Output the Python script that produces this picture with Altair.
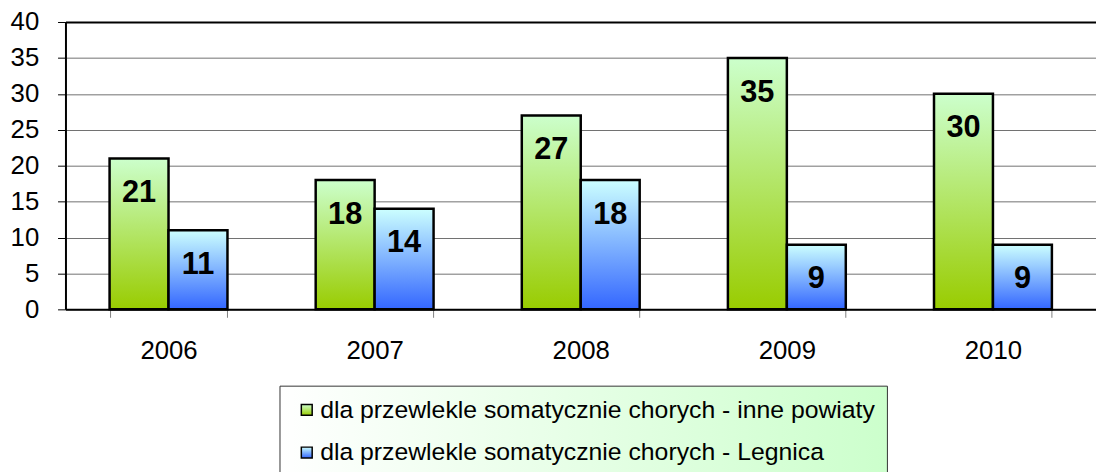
import altair as alt
import pandas as pd

years = ["2006", "2007", "2008", "2009", "2010"]
series_names = [
    "dla przewlekle somatycznie chorych - inne powiaty",
    "dla przewlekle somatycznie chorych - Legnica",
]
inne_powiaty = [21, 18, 27, 35, 30]
legnica = [11, 14, 18, 9, 9]
y_ticks = [0, 5, 10, 15, 20, 25, 30, 35, 40]

rows = []
for i, yr in enumerate(years):
    rows.append({"rok": yr, "seria": series_names[0], "wartosc": inne_powiaty[i]})
    rows.append({"rok": yr, "seria": series_names[1], "wartosc": legnica[i]})
df = pd.DataFrame(rows)

green_grad = ("{gradient: 'linear', x1: 0, y1: 0, x2: 0, y2: 1, stops: ["
              "{offset: 0, color: '#ccffcc'}, {offset: 1, color: '#99cc00'}]}")
blue_grad = ("{gradient: 'linear', x1: 0, y1: 0, x2: 0, y2: 1, stops: ["
             "{offset: 0, color: '#ccffff'}, {offset: 1, color: '#3366ff'}]}")
legend_bg = ("{gradient: 'linear', x1: 0, y1: 0, x2: 1, y2: 0, stops: ["
             "{offset: 0, color: '#ffffff'}, {offset: 1, color: '#ccffcc'}]}")

x_enc = alt.X(
    "rok:N", sort=years, title=None,
    scale=alt.Scale(paddingInner=0.428, paddingOuter=0.214),
    axis=alt.Axis(labelAngle=0, labelFontSize=26, labelColor="black", labelPadding=21,
                  tickBand="extent", tickSize=8, tickColor="#808080", tickWidth=1,
                  domainColor="black", domainWidth=2, grid=False),
)
xo_enc = alt.XOffset("seria:N", sort=series_names,
                     scale=alt.Scale(paddingInner=0, paddingOuter=0))
y_enc = alt.Y(
    "wartosc:Q", title=None,
    scale=alt.Scale(domain=[0, 40], nice=False),
    axis=alt.Axis(values=y_ticks, labelFontSize=26, labelColor="black", labelPadding=19,
                  tickSize=8, tickColor="black", tickWidth=1,
                  domainColor="black", domainWidth=2,
                  grid=True,
                  gridColor={"condition": {"test": "datum.value === 40", "value": "black"},
                             "value": "#707070"},
                  gridWidth={"condition": {"test": "datum.value === 40", "value": 2},
                             "value": 1}),
)

bars = alt.Chart(df).mark_bar(stroke="black", strokeWidth=2.5).encode(
    x=x_enc,
    xOffset=xo_enc,
    y=y_enc,
    color=alt.Color(
        "seria:N", sort=series_names,
        scale=alt.Scale(domain=series_names,
                        range=[{"expr": green_grad}, {"expr": blue_grad}]),
        legend=alt.Legend(
            title=None, orient="none", legendX=216, legendY=367, direction="vertical",
            symbolType="square", symbolSize=120, symbolStrokeColor="black",
            symbolStrokeWidth=1.5, symbolOffset=3, labelFontSize=25, labelColor="black",
            labelLimit=1000, rowPadding=17, padding=12, labelOffset=1,
            fillColor={"expr": legend_bg}, strokeColor="#333333",
        ),
    ),
)

labels = alt.Chart(df).mark_text(
    baseline="middle", dy=35, fontSize=31, fontWeight="bold", color="black"
).encode(
    x=x_enc,
    xOffset=xo_enc,
    y=y_enc,
    text="wartosc:Q",
)

chart = alt.layer(bars, labels).properties(
    width=1040, height=290,
    autosize=alt.AutoSizeParams(type="none"),
    padding={"left": 58, "top": 12, "right": 0, "bottom": 162},
).configure(font="Liberation Sans").configure_view(strokeWidth=0)

chart.save("out.html", embed_options={"renderer": "svg", "actions": False})
